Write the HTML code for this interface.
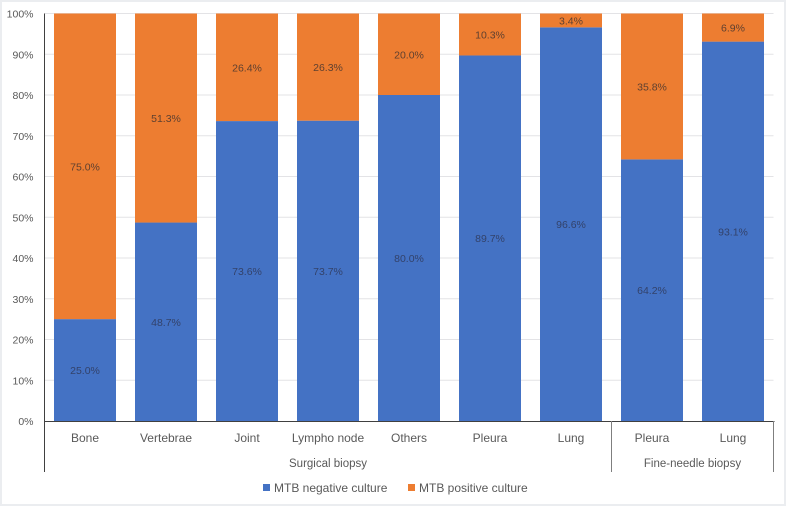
<!DOCTYPE html>
<html>
<head>
<meta charset="utf-8">
<style>
html,body{margin:0;padding:0;background:#fff;}
body{width:787px;height:507px;overflow:hidden;}
svg{display:block;font-family:"Liberation Sans",sans-serif;}
</style>
</head>
<body>
<svg id="chart" width="787" height="507" viewBox="0 0 787 507" xmlns="http://www.w3.org/2000/svg">
<rect x="1" y="1" width="784" height="504" fill="#fff" stroke="#ebedf0" stroke-width="2"/>
<g id="grid"></g><g id="bars"></g><g id="axes"></g><g id="labels"></g>
<g>
<rect x="263" y="484" width="7" height="7" fill="#4472c4"/>
<text x="274" y="492" font-size="12" fill="#595959">MTB negative culture</text>
<rect x="408" y="484" width="7" height="7" fill="#ed7d31"/>
<text x="419" y="492" font-size="12" fill="#595959">MTB positive culture</text>
</g>
</svg>
<script>
const categories = ["Bone","Vertebrae","Joint","Lympho node","Others","Pleura","Lung","Pleura","Lung"];
const negativeValues = [25.0,48.7,73.6,73.7,80.0,89.7,96.6,64.2,93.1];
const positiveValues = [75.0,51.3,26.4,26.3,20.0,10.3,3.4,35.8,6.9];
const yTicks = [0,10,20,30,40,50,60,70,80,90,100];
const groupNames = ["Surgical biopsy","Fine-needle biopsy"];
const groupSizes = [7,2];

const NS = "http://www.w3.org/2000/svg";
const left = 44.5, right = 773.5, top_ = 13.5, bottom = 421;
const step = (right - left) / categories.length;
const barW = 62;
const xAt = i => left + step * i;
const yAt = v => bottom - (v / 100) * (bottom - top_);

function make(parent, tag, attrs, text) {
  const el = document.createElementNS(NS, tag);
  for (const k in attrs) el.setAttribute(k, attrs[k]);
  if (text !== undefined) el.textContent = text;
  document.getElementById(parent).appendChild(el);
  return el;
}

yTicks.forEach(t => {
  if (t > 0) {
    const g = make("grid", "line", {x1: left, x2: right, y1: yAt(t), y2: yAt(t), stroke: "#e3e3e6", "stroke-width": 1});
    
    
  }
  const l = make("axes", "text", {x: 33.5, y: yAt(t) + 4, "text-anchor": "end", "font-size": 10.5, fill: "#595959"}, t + "%");
  
  
});

categories.forEach((c, i) => {
  const x = xAt(i) + (step - barW) / 2;
  const n = negativeValues[i], p = positiveValues[i];
  const r1 = make("bars", "rect", {x: x, y: yAt(n), width: barW, height: bottom - yAt(n), fill: "#4472c4"});
  
  
  const r2 = make("bars", "rect", {x: x, y: yAt(n + p), width: barW, height: yAt(n) - yAt(n + p), fill: "#ed7d31"});
  
  
  const cx = x + barW / 2;
  const t1 = make("labels", "text", {x: cx, y: yAt(n / 2) + 4, "text-anchor": "middle", "font-size": 10.5, fill: "#33426a"}, n.toFixed(1) + "%");
  
  
  const t2 = make("labels", "text", {x: cx, y: yAt(n + p / 2) + 4, "text-anchor": "middle", "font-size": 10.5, fill: "#5e4030"}, p.toFixed(1) + "%");
  
  
  const t3 = make("axes", "text", {x: cx, y: 442, "text-anchor": "middle", "font-size": 12, fill: "#595959"}, c);
  
  
});

const yAxis = make("axes", "line", {x1: 44.5, x2: 44.5, y1: top_, y2: 472, stroke: "#404040", "stroke-width": 1});


const xAxis = make("axes", "line", {x1: 44.5, x2: right + 1, y1: bottom + 0.5, y2: bottom + 0.5, stroke: "#404040", "stroke-width": 1});



let offset = 0;
groupNames.forEach((g, i) => {
  const start = xAt(offset), end = xAt(offset + groupSizes[i]);
  const t = make("axes", "text", {x: (start + end) / 2, y: 467, "text-anchor": "middle", "font-size": 11.5, fill: "#595959"}, g);
  
  
  const d = make("axes", "line", {x1: end, x2: end, y1: bottom, y2: 472, stroke: "#7f7f7f", "stroke-width": 1});
  
  
  offset += groupSizes[i];
});
</script>
</body>
</html>
